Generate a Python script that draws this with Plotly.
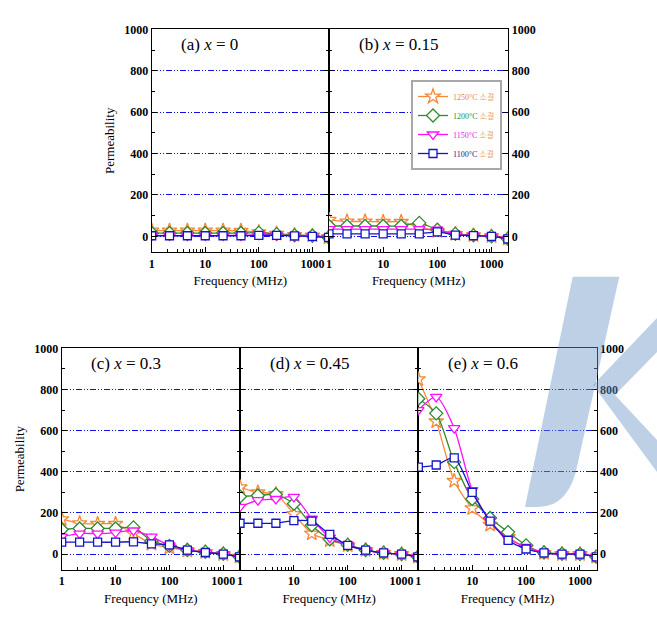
import plotly.graph_objects as go

W, H = 657, 619

# ---------------- data ----------------
freq = [1, 2.15, 4.64, 10, 21.5, 46.4, 100, 215, 464, 1000, 2000]

series_temps = ["1250°C", "1200°C", "1150°C", "1100°C"]
series_suffix = "소결"
panel_tags = ["(a)", "(b)", "(c)", "(d)", "(e)"]
panel_x = ["0", "0.15", "0.3", "0.45", "0.6"]
x_tickvals = [1, 10, 100, 1000]
x_ticktext = ["1", "10", "100", "1000"]
y_tickvals = [0, 200, 400, 600, 800, 1000]

# (a) x = 0
a_1250 = [28, 28, 28, 28, 28, 27, 20, 13, 7, 4, -5]
a_1200 = [16, 16, 16, 16, 16, 16, 18, 11, 5, 3, -5]
a_1150 = [5, 4, 4, 4, 4, 5, 8, 6, 3, 0, -5]
a_1100 = [3, 3, 3, 3, 3, 3, 5, 5, 2, 0, -5]
# (b) x = 0.15
b_1250 = [80, 72, 72, 70, 70, 45, 25, 12, 5, 0, -12]
b_1200 = [50, 50, 50, 50, 50, 65, 32, 12, 5, 0, -12]
b_1150 = [35, 35, 35, 35, 35, 35, 32, 10, 5, 0, -12]
b_1100 = [12, 12, 12, 12, 12, 12, 22, 6, 4, 0, -12]
# (c) x = 0.3
c_1250 = [170, 150, 147, 147, 100, 50, 32, 18, 10, 0, -13]
c_1200 = [120, 125, 125, 125, 130, 65, 40, 20, 11, 2, -13]
c_1150 = [85, 100, 100, 105, 115, 85, 42, 20, 10, 0, -13]
c_1100 = [58, 58, 58, 58, 60, 50, 45, 20, 8, 0, -13]
# (d) x = 0.45
d_1250 = [325, 300, 292, 195, 100, 67, 43, 20, 6, 0, -13]
d_1200 = [280, 285, 290, 245, 140, 72, 45, 20, 6, 0, -13]
d_1150 = [230, 262, 268, 278, 172, 80, 45, 20, 6, 0, -13]
d_1100 = [150, 150, 150, 163, 160, 96, 43, 20, 6, 0, -13]
# (e) x = 0.6
e_1250 = [850, 645, 356, 223, 143, 83, 31, 6, 0, 0, -13]
e_1200 = [755, 684, 447, 268, 176, 107, 43, 8, 2, 0, -13]
e_1150 = [700, 764, 612, 311, 162, 75, 35, 6, 0, 0, -13]
e_1100 = [423, 433, 468, 300, 160, 67, 25, 6, 0, 0, -13]

panels = [
    [a_1250, a_1200, a_1150, a_1100],
    [b_1250, b_1200, b_1150, b_1100],
    [c_1250, c_1200, c_1150, c_1100],
    [d_1250, d_1200, d_1150, d_1100],
    [e_1250, e_1200, e_1150, e_1100],
]

# ---------------- style ----------------
colors = ["#F7883A", "#2E8B2E", "#FF10FF", "#1515C8"]
text_colors = ["#E8853A", "#2E8B2E", "#E020E0", "#202090"]
suffix_color = "#E8A870"
symbols = ["star", "diamond", "triangle-down", "square"]
sizes = [11, 10, 10, 8]
SERIF = "Liberation Serif"


def px_x(p):
    return p / W


def px_y(p):
    return 1 - p / H


x_domains = [
    [px_x(151.7), px_x(329.0)],
    [px_x(329.0), px_x(508.3)],
    [px_x(61.7), px_x(240.0)],
    [px_x(240.0), px_x(418.3)],
    [px_x(418.3), px_x(596.7)],
]
top_dom = [px_y(252.3), px_y(29.3)]
bot_dom = [px_y(570.0), px_y(348.3)]
y_domains = [top_dom, top_dom, bot_dom, bot_dom, bot_dom]
y_side = ["left", "right", "left", None, "right"]

fig = go.Figure()

for i, pdata in enumerate(panels):
    xa = "x" if i == 0 else f"x{i+1}"
    ya = "y" if i == 0 else f"y{i+1}"
    for j, vals in enumerate(pdata):
        name = (f"<span style='color:{text_colors[j]}'>{series_temps[j]}</span> "
                f"<span style='color:{suffix_color}'>{series_suffix}</span>")
        fig.add_trace(go.Scatter(
            x=freq, y=vals, xaxis=xa, yaxis=ya,
            mode="lines+markers",
            name=name,
            legendgroup=series_temps[j],
            showlegend=(i == 1),
            line=dict(color=colors[j], width=1.3, shape="spline", smoothing=0.7),
            marker=dict(symbol=symbols[j], size=sizes[j], color="white",
                        line=dict(color=colors[j], width=1.3)),
        ))

tickfont = dict(family=SERIF, size=12, color="black", weight="bold")
titlefont = dict(family=SERIF, size=13, color="black")

layout = dict(
    width=W, height=H,
    margin=dict(l=0, r=0, t=0, b=0, autoexpand=False),
    paper_bgcolor="white", plot_bgcolor="white",
    showlegend=True,
    legend=dict(
        x=px_x(411), y=px_y(80), xanchor="left", yanchor="top",
        bgcolor="white", bordercolor="#A8A8A8", borderwidth=2,
        font=dict(family="Liberation Serif, Noto Sans CJK KR", size=8),
        tracegroupgap=0, itemwidth=30,
    ),
)

annotations = []
for i in range(5):
    key = "" if i == 0 else str(i + 1)
    xa = "x" if i == 0 else f"x{i+1}"
    ya = "y" if i == 0 else f"y{i+1}"
    layout["xaxis" + key] = dict(
        domain=x_domains[i], anchor=ya, type="log", range=[0, 3.31],
        automargin=False,
        tickmode="array", tickvals=x_tickvals, ticktext=x_ticktext,
        ticks="inside", ticklen=5, tickwidth=1, tickcolor="black",
        showline=True, linecolor="black", linewidth=1, mirror=True,
        showgrid=False, zeroline=False,
        minor=dict(ticks="inside", ticklen=3, tickcolor="black", dtick="D1", showgrid=False),
        tickfont=tickfont,
        title=dict(text="Frequency (MHz)", font=titlefont, standoff=6),
    )
    yax = dict(
        domain=y_domains[i], anchor=xa, range=[-77, 1000],
        automargin=False,
        tickmode="array", tickvals=y_tickvals,
        ticks="inside", ticklen=5, tickwidth=1, tickcolor="black",
        showline=True, linecolor="black", linewidth=1, mirror="ticks",
        showgrid=True, gridcolor="#1010E8", gridwidth=1,
        griddash="6px,2px,1px,2px,1px,2px",
        zeroline=False,
        minor=dict(ticks="inside", ticklen=3, tickcolor="black", dtick=100, showgrid=False),
        tickfont=tickfont,
    )
    if y_side[i] is None:
        yax["showticklabels"] = False
    else:
        yax["side"] = y_side[i]
    if i in (0, 2):
        yax["title"] = dict(text="Permeability", font=titlefont, standoff=6)
    layout["yaxis" + key] = yax
    annotations.append(dict(
        xref=f"{xa} domain", yref=f"{ya} domain", x=0.155, y=0.985,
        xanchor="left", yanchor="top", showarrow=False,
        text=f"{panel_tags[i]} <i>x</i> = {panel_x[i]}",
        font=dict(family=SERIF, size=17, color="black"),
    ))

layout["annotations"] = annotations


def path(points_px):
    parts = []
    for cmd, pts in points_px:
        coords = " ".join(f"{px_x(a):.4f},{px_y(b):.4f}" for a, b in pts)
        parts.append(f"{cmd} {coords}")
    return " ".join(parts) + " Z"


wm_color = "rgba(110,150,200,0.45)"
layout["shapes"] = [
    dict(type="path", xref="paper", yref="paper", layer="above",
         fillcolor=wm_color, line=dict(width=0),
         path=path([("M", [(572.7, 276.7)]), ("L", [(619.3, 276.7)]), ("L", [(578, 462)]),
                    ("Q", [(570, 507), (538, 507)]), ("L", [(525, 507)])])),
    dict(type="path", xref="paper", yref="paper", layer="above",
         fillcolor=wm_color, line=dict(width=0),
         path=path([("M", [(657, 318)]), ("L", [(593, 385)]), ("L", [(657, 472)]),
                    ("L", [(657, 440)]), ("L", [(615, 395)]), ("L", [(657, 352)])])),
]

fig.update_layout(**layout)
fig.write_html("out.html",
               config={"displayModeBar": False},
               post_script="document.body.style.margin='0px';document.body.style.overflow='hidden';")
